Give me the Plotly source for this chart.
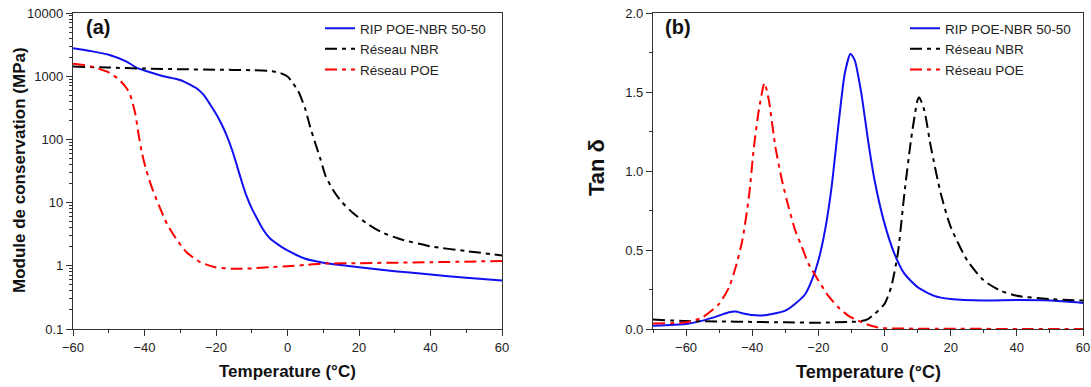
import plotly.graph_objects as go

# ---------------- Data: panel (a) storage modulus (MPa) ----------------
t_rip_a = [-60, -55, -50, -45, -42, -40, -35, -30, -27, -25, -23.4, -21.5, -20, -18.5, -17, -15.5,
           -14.5, -13.5, -12.5, -11.5, -10, -9, -7, -5, -2, 0, 5, 10, 20, 30, 40, 50, 60]
e_rip_a = [2780, 2500, 2190, 1700, 1340, 1230, 1010, 870, 720, 617, 500, 347, 254, 177, 115, 68,
           45, 29, 19, 12.9, 8.1, 6.3, 3.9, 2.75, 2.05, 1.75, 1.29, 1.12, 0.95, 0.82, 0.73, 0.645, 0.585]

t_nbr_a = [-60, -50, -40, -30, -20, -10, -5, -2, 0, 1, 3, 5, 6.3, 7.8, 9.3, 10.7, 12.7, 15, 18.5,
           22.4, 26.3, 31, 40, 50, 60]
e_nbr_a = [1420, 1370, 1320, 1290, 1270, 1245, 1215, 1120, 990, 850, 580, 300, 160, 86, 47, 26, 16,
           10.5, 6.7, 4.6, 3.4, 2.7, 2.03, 1.71, 1.46]

t_poe_a = [-60, -55, -50, -47, -45, -44, -42.6, -41.7, -40.7, -39.5, -38, -36, -33.7, -31.2, -28.3,
           -24.4, -20.5, -15, -10, -5, 0, 5, 10, 20, 40, 60]
e_poe_a = [1570, 1430, 1150, 870, 645, 506, 259, 124, 60, 32.6, 17.7, 9.1, 4.6, 2.7, 1.65,
           1.14, 0.955, 0.895, 0.91, 0.95, 0.98, 1.03, 1.08, 1.1, 1.14, 1.19]

# ---------------- Data: panel (b) tan delta ----------------
t_rip_b = [-70, -60, -55, -50, -47, -45, -43, -40, -37, -34, -30, -27, -24, -22, -20, -18, -16,
           -14, -12, -10.3, -9, -7, -5, -3, 0, 3, 6, 10, 15, 20, 30, 40, 50, 60]
d_rip_b = [0.021, 0.032, 0.053, 0.085, 0.106, 0.11, 0.1, 0.088, 0.086, 0.095, 0.116, 0.16, 0.22,
           0.307, 0.434, 0.624, 0.9, 1.28, 1.62, 1.742, 1.70, 1.49, 1.196, 0.94, 0.667, 0.476,
           0.35, 0.265, 0.21, 0.19, 0.18, 0.183, 0.18, 0.165]

t_nbr_b = [-70, -60, -50, -40, -30, -20, -10, -7, -5, -3, 0, 2, 4, 6, 8, 10, 10.5, 12, 14, 17,
           20, 25, 30, 35, 40, 50, 60]
d_nbr_b = [0.06, 0.05, 0.048, 0.045, 0.042, 0.04, 0.045, 0.05, 0.063, 0.095, 0.159, 0.265, 0.476,
           0.857, 1.196, 1.45, 1.466, 1.386, 1.153, 0.857, 0.646, 0.434, 0.307, 0.243, 0.21, 0.19, 0.18]

t_poe_b = [-70, -60, -55, -50, -47, -45, -43, -41, -39.5, -38, -36.3, -35, -33, -31, -29, -27, -25,
           -23, -20, -17, -14, -11, -8, -5, -2, 0, 10, 60]
d_poe_b = [0.035, 0.042, 0.074, 0.159, 0.265, 0.392, 0.56, 0.836, 1.15, 1.386, 1.557, 1.45, 1.153,
           0.94, 0.77, 0.624, 0.519, 0.413, 0.307, 0.21, 0.138, 0.085, 0.053, 0.027, 0.01, 0.005,
           0.002, 0.0]

names = ["RIP POE-NBR 50-50", "Réseau NBR", "Réseau POE"]
colors = ["#1010f0", "#000000", "#ff0000"]
dashes = ["solid", "12px,5px,4px,5px", "12px,5px,4px,5px"]

log_ticks = [0.1, 1, 10, 100, 1000, 10000]
log_ticktext = ["0.1", "1", "10", "100", "1000", "10000"]

FONT = "Liberation Sans, Arial, sans-serif"

fig = go.Figure()

panel_a = [(t_rip_a, e_rip_a), (t_nbr_a, e_nbr_a), (t_poe_a, e_poe_a)]
panel_b = [(t_rip_b, d_rip_b), (t_nbr_b, d_nbr_b), (t_poe_b, d_poe_b)]

for i, (x, y) in enumerate(panel_a):
    fig.add_trace(go.Scatter(x=x, y=y, name=names[i], mode="lines",
                             line=dict(color=colors[i], width=2, dash=dashes[i], shape="spline", smoothing=0.6),
                             xaxis="x", yaxis="y", legend="legend"))
for i, (x, y) in enumerate(panel_b):
    fig.add_trace(go.Scatter(x=x, y=y, name=names[i], mode="lines",
                             line=dict(color=colors[i], width=2, dash=dashes[i], shape="spline", smoothing=0.6),
                             xaxis="x2", yaxis="y2", legend="legend2"))

minor_log = [k * 10 ** d for d in range(-1, 4) for k in range(2, 10)]

axis_common = dict(showline=True, linecolor="#333333", linewidth=1.3, mirror=True,
                   ticks="outside", ticklen=6, tickwidth=1.2, tickcolor="#333333",
                   showgrid=False, zeroline=False, automargin=False,
                   tickfont=dict(family=FONT, size=13, color="#222222"))

fig.update_layout(
    width=1091, height=387,
    margin=dict(l=0, r=0, t=13, b=58),
    paper_bgcolor="white", plot_bgcolor="white",
    xaxis=dict(domain=[73 / 1091, 502 / 1091], range=[-60, 60], tickvals=[-60, -40, -20, 0, 20, 40, 60],
               minor=dict(dtick=10, ticklen=3, tickcolor="#333333", ticks="outside"),
               anchor="y", **axis_common),
    yaxis=dict(domain=[0, 1], type="log", range=[-1, 4], tickvals=log_ticks, ticktext=log_ticktext,
               minor=dict(tickvals=minor_log, ticklen=3, tickcolor="#333333", ticks="outside"),
               anchor="x", **axis_common),
    xaxis2=dict(domain=[653 / 1091, 1083 / 1091], range=[-70, 60], tickvals=[-60, -40, -20, 0, 20, 40, 60],
                minor=dict(tick0=-70, dtick=10, ticklen=3, tickcolor="#333333", ticks="outside"),
                anchor="y2", **axis_common),
    yaxis2=dict(domain=[0, 1], range=[0, 2], tickvals=[0, 0.5, 1.0, 1.5, 2.0],
                ticktext=["0.0", "0.5", "1.0", "1.5", "2.0"],
                minor=dict(dtick=0.25, ticklen=3, tickcolor="#333333", ticks="outside"),
                anchor="x2", **axis_common),
    legend=dict(x=320 / 1091, y=1.0, xanchor="left", yanchor="top", bgcolor="rgba(0,0,0,0)",
                font=dict(family=FONT, size=13.5, color="#222222"), tracegroupgap=0),
    legend2=dict(x=905 / 1091, y=1.0, xanchor="left", yanchor="top", bgcolor="rgba(0,0,0,0)",
                 font=dict(family=FONT, size=13.5, color="#222222"), tracegroupgap=0),
    showlegend=True,
)

ann = [
    dict(text="<b>(a)</b>", x=97.5 / 1091, y=(329 - 27) / 316, font=dict(size=20)),
    dict(text="<b>(b)</b>", x=678 / 1091, y=(329 - 27) / 316, font=dict(size=20)),
    dict(text="<b>Temperature (°C)</b>", x=(73 + 502) / 2 / 1091, y=(329 - 371) / 316, font=dict(size=17)),
    dict(text="<b>Temperature (°C)</b>", x=(653 + 1083) / 2 / 1091, y=(329 - 372) / 316, font=dict(size=18)),
    dict(text="<b>Module de conservation (MPa)</b>", x=19 / 1091, y=(329 - 170) / 316, font=dict(size=17), textangle=-90),
    dict(text="<b>Tan δ</b>", x=597 / 1091, y=(329 - 168) / 316, font=dict(size=22), textangle=-90),
]
for a in ann:
    a.update(xref="paper", yref="paper", showarrow=False, xanchor="center", yanchor="middle")
    a["font"].update(family=FONT, color="#111111")
    fig.add_annotation(**a)

fig.write_html("out.html", config={"displayModeBar": False},
               post_script="document.body.style.margin='0';document.body.style.overflow='hidden';")
